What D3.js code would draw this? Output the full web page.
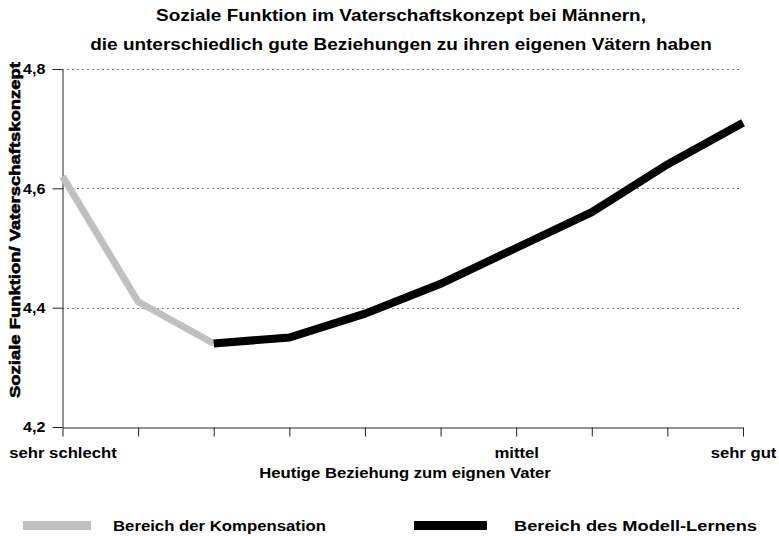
<!DOCTYPE html>
<html>
<head>
<meta charset="utf-8">
<script src="https://cdn.jsdelivr.net/npm/d3@7"></script>
<style>
  html, body { margin: 0; padding: 0; background: #fff; }
  svg { display: block; }
  text { font-family: "Liberation Sans", Arial, sans-serif; font-weight: bold; fill: #000; }
</style>
</head>
<body>
<svg id="chart" width="779" height="536"></svg>
<script>
// ---- data ----
const categories = ["sehr schlecht", "", "", "", "", "", "mittel", "", "", "sehr gut"];
const yTicks = [4.2, 4.4, 4.6, 4.8];
const gridValues = [4.4, 4.6, 4.8];
const kompensationIdx = [0, 1, 2];
const kompensationVal = [4.62, 4.41, 4.34];
const modellIdx = [2, 3, 4, 5, 6, 7, 8, 9];
const modellVal = [4.34, 4.35, 4.39, 4.44, 4.50, 4.56, 4.64, 4.71];
const titleLines = ["Soziale Funktion im Vaterschaftskonzept bei Männern,",
                    "die unterschiedlich gute Beziehungen zu ihren eigenen Vätern haben"];
const xTitle = "Heutige Beziehung zum eignen Vater";
const yTitle = "Soziale Funktion/ Vaterschaftskonzept";
const legendLabels = ["Bereich der Kompensation", "Bereich des Modell-Lernens"];
const seriesColors = ["#c0c0c0", "#000000"];

// ---- layout ----
const SX = 1.15; // horizontal stretch of the text
const svg = d3.select("#chart");
const x = d3.scalePoint().domain(d3.range(categories.length)).range([62.5, 743]);
const y = d3.scaleLinear().domain([4.2, 4.8]).range([427, 69]);
const locale = d3.formatLocale({decimal: ",", thousands: ".", grouping: [3], currency: ["", "€"]});
const fmt = locale.format(".1f");

function stretchedText(parent, tx, ty, str, size, anchor) {
  return parent.append("text")
    .attr("transform", `translate(${tx},${ty}) scale(${SX},1)`)
    .attr("text-anchor", anchor || "middle")
    .style("font-size", size + "px")
    .text(str);
}

// title
stretchedText(svg, 401, 21, titleLines[0], 16.5);
stretchedText(svg, 401, 50, titleLines[1], 16.5);

// grid
svg.append("g").selectAll("line").data(gridValues).join("line")
  .attr("x1", 62.5).attr("x2", 741)
  .attr("y1", d => Math.round(y(d)) + 0.5).attr("y2", d => Math.round(y(d)) + 0.5)
  .attr("stroke", "#000").attr("stroke-width", 1).attr("stroke-dasharray", "1,4");

// x axis
const xAxis = svg.append("g").attr("transform", "translate(0,427.5)")
  .call(d3.axisBottom(x).tickSize(9).tickSizeOuter(0).tickFormat(i => categories[i]));
xAxis.attr("font-family", null).attr("font-size", null);
xAxis.select(".domain").attr("stroke", "#222");
xAxis.selectAll(".tick line").attr("stroke", "#222");
xAxis.selectAll(".tick text")
  .attr("y", 0).attr("dy", 0)
  .attr("transform", `translate(0,30) scale(${SX},1)`)
  .style("font-size", "14.5px").style("font-weight", "bold");

// y axis
const yAxis = svg.append("g").attr("transform", "translate(62.5,0)")
  .call(d3.axisLeft(y).tickValues(yTicks).tickSize(10).tickSizeOuter(0).tickFormat(fmt));
yAxis.attr("font-family", null).attr("font-size", null);
yAxis.select(".domain").attr("stroke", "#222");
yAxis.selectAll(".tick line").attr("stroke", "#222");
yAxis.selectAll(".tick text")
  .attr("x", 0).attr("dy", "0.35em")
  .attr("transform", `translate(-17,0) scale(${SX},1)`)
  .style("font-size", "14px").style("font-weight", "bold");

// axis titles
stretchedText(svg, 405, 478, xTitle, 14.5);
svg.append("text")
  .attr("transform", "translate(19.5,230) rotate(-90)")
  .attr("text-anchor", "middle")
  .attr("textLength", 336).attr("lengthAdjust", "spacingAndGlyphs")
  .style("font-size", "15.5px")
  .attr("stroke", "#000").attr("stroke-width", 0.6)
  .text(yTitle);

// lines
const line = d3.line().x(d => x(d[0])).y(d => y(d[1]));
svg.append("path")
  .datum(kompensationIdx.map((d, i) => [d, kompensationVal[i]]))
  .attr("d", line).attr("fill", "none")
  .attr("stroke", seriesColors[0]).attr("stroke-width", 7).attr("stroke-linejoin", "miter");
svg.append("path")
  .datum(modellIdx.map((d, i) => [d, modellVal[i]]))
  .attr("d", line).attr("fill", "none")
  .attr("stroke", seriesColors[1]).attr("stroke-width", 8).attr("stroke-linejoin", "miter");

// legend
const legendX = [[23, 91, 113, 213], [414, 487, 514, 243]];
legendLabels.forEach((lab, i) => {
  svg.append("line")
    .attr("x1", legendX[i][0]).attr("x2", legendX[i][1])
    .attr("y1", 525.5).attr("y2", 525.5)
    .attr("stroke", seriesColors[i]).attr("stroke-width", 9);
  svg.append("text")
    .attr("x", legendX[i][2]).attr("y", 530.5)
    .attr("textLength", legendX[i][3]).attr("lengthAdjust", "spacingAndGlyphs")
    .style("font-size", "14.5px")
    .text(lab);
});
</script>
</body>
</html>
